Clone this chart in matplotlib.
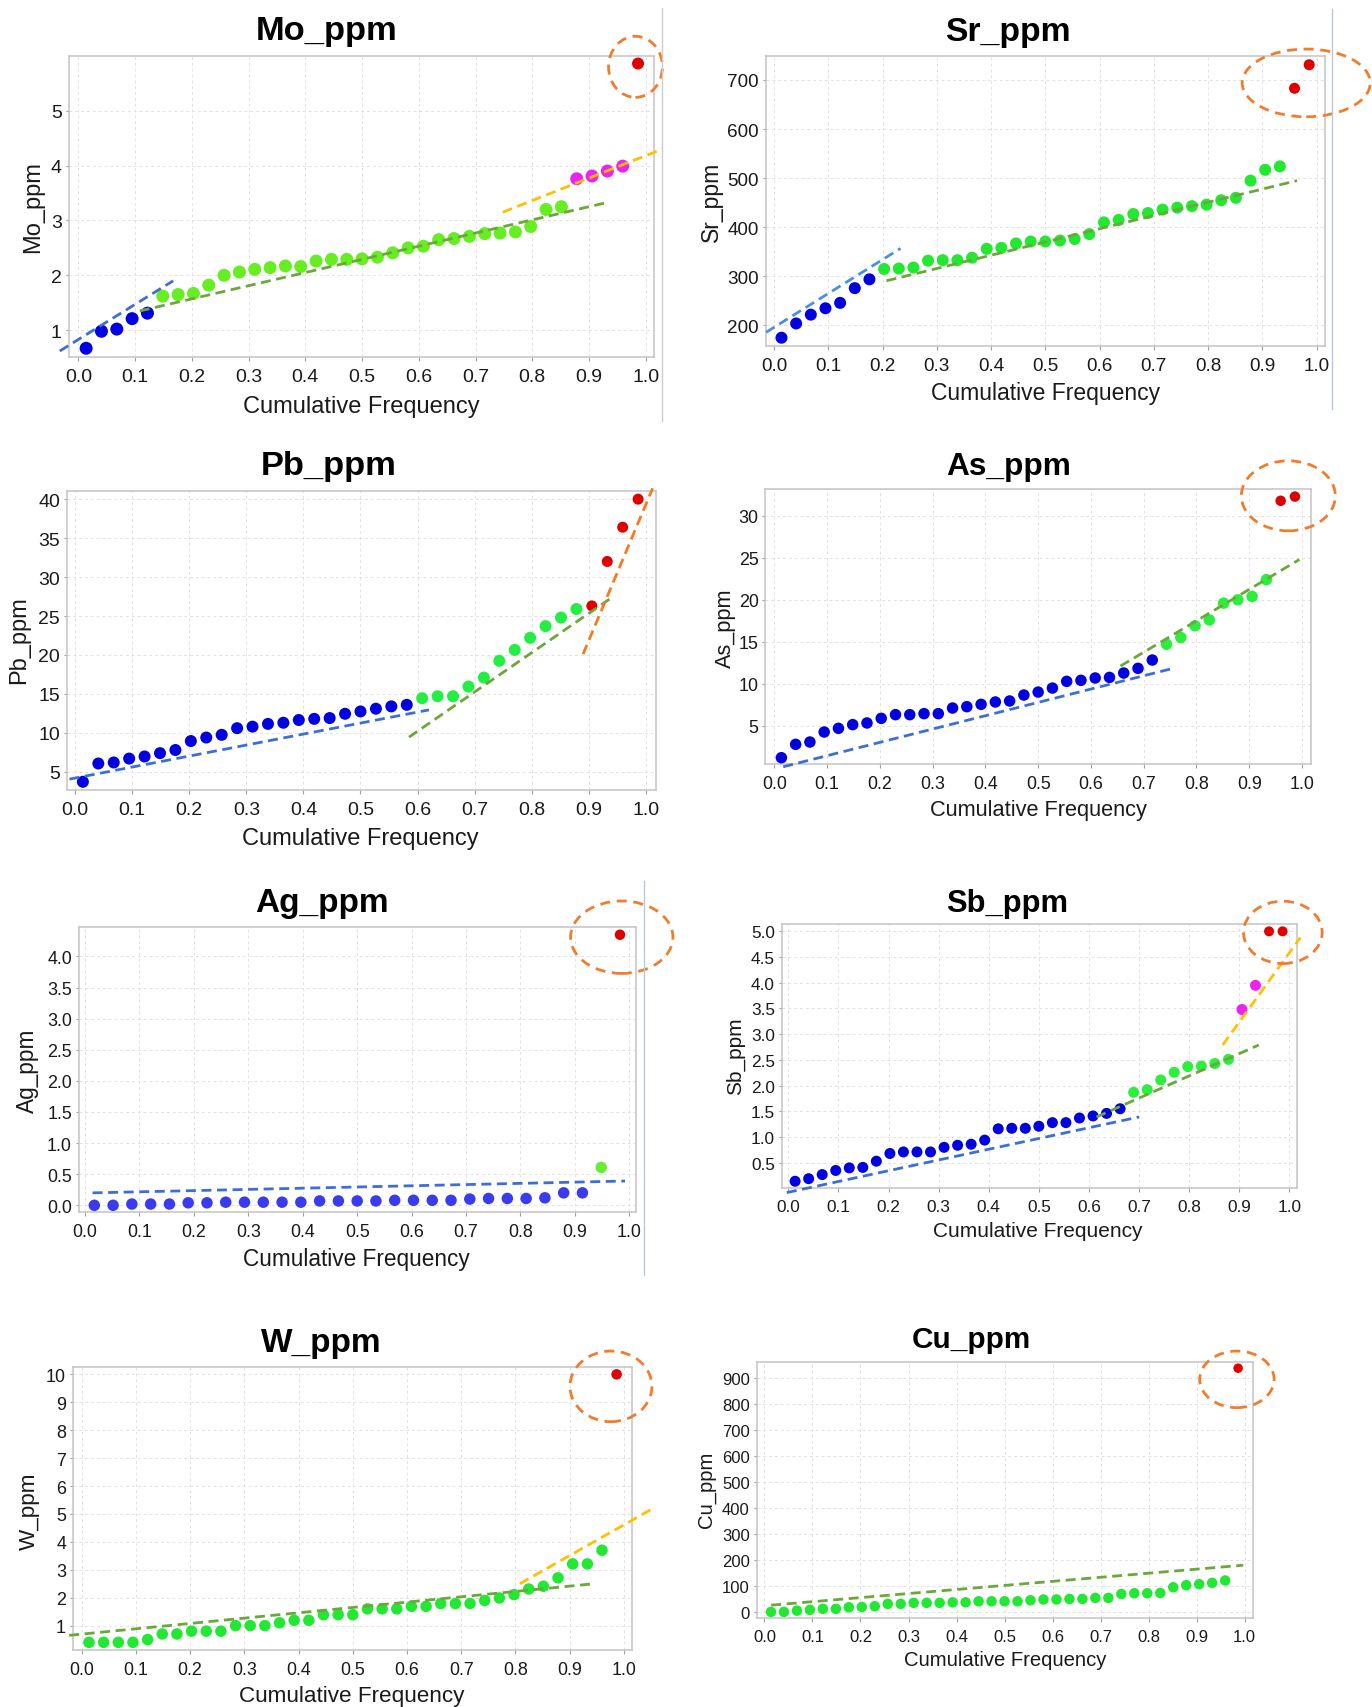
import matplotlib.pyplot as plt
from matplotlib.patches import Ellipse
from matplotlib.lines import Line2D
import numpy as np

plt.rcParams['font.family'] = ['Liberation Sans', 'DejaVu Sans']

# --- values, sorted ascending (cumulative frequency plots) ---
# class: 1 = background, 2 = threshold, 3 = anomaly, 4 = outlier
moValues = [0.67, 0.98, 1.02, 1.21, 1.31,
            1.62, 1.65, 1.67, 1.82, 2.00, 2.06, 2.11, 2.14, 2.17, 2.16,
            2.26, 2.29, 2.29, 2.30, 2.33, 2.41, 2.50, 2.53, 2.65, 2.67,
            2.71, 2.76, 2.77, 2.79, 2.89, 3.20, 3.25,
            3.76, 3.81, 3.90, 3.99,
            5.86]
moClass = [1] * 5 + [2] * 27 + [3] * 4 + [4]
moFitX = [[-0.033, 0.167], [0.108, 0.929], [0.748, 1.029]]
moFitY = [[0.62, 1.90], [1.35, 3.32], [3.15, 4.30]]
moFitClass = [1, 2, 3]
moOutlier = [0.982, 5.80, 0.095, 1.113]

srValues = [175, 204, 222, 235, 246, 276, 294,
            315, 316, 318, 332, 333, 333, 338, 356, 358, 367,
            371, 371, 373, 376, 386, 410, 415, 427, 429, 436,
            440, 443, 446, 455, 460, 495, 517, 524,
            683, 731]
srClass = [1] * 7 + [2] * 28 + [4] * 2
srFitX = [[-0.015, 0.233], [0.207, 0.964]]
srFitY = [[186, 357], [291, 495]]
srFitClass = [1, 2]
srOutlier = [0.981, 694, 0.236, 138]

pbValues = [3.72, 6.07, 6.2, 6.7, 6.97, 7.4, 7.8, 8.95, 9.4, 9.75,
            10.6, 10.8, 11.15, 11.3, 11.65, 11.8, 11.9, 12.45, 12.75, 13.1,
            13.4, 13.6,
            14.45, 14.7, 14.7, 15.95, 17.1, 19.25, 20.65, 22.2, 23.7, 24.8, 25.9,
            26.3, 32.0, 36.4, 40.0]
pbClass = [1] * 22 + [2] * 11 + [4] * 4
pbFitX = [[-0.01, 0.62], [0.585, 0.937], [0.89, 1.012]]
pbFitY = [[4.06, 12.95], [9.45, 27.2], [20.1, 41.4]]
pbFitClass = [1, 2, 4]
pbOutlier = None

asValues = [1.18, 2.77, 3.05, 4.24, 4.68, 5.12, 5.32, 5.87, 6.31, 6.31,
            6.43, 6.43, 7.1, 7.26, 7.54, 7.82, 7.94, 8.65, 9.0, 9.48,
            10.28, 10.4, 10.68, 10.75, 11.27, 11.83, 12.82,
            14.7, 15.5, 16.9, 17.6, 19.6, 20.0, 20.4, 22.4,
            31.8, 32.3]
asClass = [1] * 27 + [2] * 8 + [4] * 2
asFitX = [[0.017, 0.76], [0.656, 0.995]]
asFitY = [[0.10, 11.9], [12.1, 24.8]]
asFitClass = [1, 2]
asOutlier = [0.974, 32.39, 0.178, 8.35]

agValues = [0.0, 0.0, 0.02, 0.02, 0.02, 0.04, 0.04, 0.05, 0.05, 0.05,
            0.05, 0.05, 0.07, 0.07, 0.07, 0.07, 0.08, 0.08, 0.08, 0.08,
            0.10, 0.11, 0.11, 0.11, 0.12, 0.20, 0.20,
            0.61,
            4.35]
agClass = [1] * 27 + [2] + [4]
agFitX = [[0.014, 0.992]]
agFitY = [[0.20, 0.39]]
agFitClass = [1]
agOutlier = [0.986, 4.31, 0.188, 1.165]

sbValues = [0.14, 0.19, 0.27, 0.35, 0.40, 0.41, 0.53, 0.68, 0.71, 0.71,
            0.71, 0.80, 0.84, 0.86, 0.94, 1.16, 1.17, 1.17, 1.21, 1.28,
            1.28, 1.37, 1.41, 1.46, 1.55,
            1.87, 1.92, 2.11, 2.26, 2.37, 2.38, 2.43, 2.51,
            3.48, 3.95,
            5.0, 5.0]
sbClass = [1] * 25 + [2] * 8 + [3] * 2 + [4] * 2
sbFitX = [[-0.003, 0.70], [0.615, 0.939], [0.867, 1.022]]
sbFitY = [[-0.08, 1.39], [1.39, 2.79], [2.79, 4.88]]
sbFitClass = [1, 2, 3]
sbOutlier = [0.987, 4.98, 0.157, 1.213]

wValues = [0.40, 0.40, 0.40, 0.40, 0.50, 0.70, 0.70, 0.80, 0.80, 0.80,
           1.0, 1.0, 1.0, 1.10, 1.19, 1.19, 1.39, 1.39, 1.39, 1.60,
           1.60, 1.60, 1.69, 1.69, 1.79, 1.79, 1.79, 1.90, 1.99, 2.11,
           2.31, 2.41, 2.71, 3.21, 3.21, 3.70,
           10.0]
wClass = [2] * 36 + [4]
wFitX = [[-0.023, 0.945], [0.808, 1.05]]
wFitY = [[0.65, 2.5], [2.5, 5.16]]
wFitClass = [2, 3]
wOutlier = [0.976, 9.57, 0.151, 2.53]

cuValues = [0, 0, 5, 8, 12, 12, 18, 19, 22, 31,
            31, 35, 35, 35, 37, 37, 41, 41, 41, 41,
            45, 48, 48, 50, 50, 54, 54, 69, 72, 72,
            73, 95, 103, 107, 112, 121,
            939]
cuClass = [2] * 36 + [4]
cuFitX = [[0.014, 0.997]]
cuFitY = [[26, 180]]
cuFitClass = [2]
cuOutlier = [0.984, 896, 0.155, 218]

xTicks = [0.0, 0.1, 0.2, 0.3, 0.4, 0.5, 0.6, 0.7, 0.8, 0.9, 1.0]

# --- styles ---
W, H = 1260, 1568  # layout measured in the shrunk reference
lineColors = {1: '#3c6fd6', 2: '#6aa83a', 3: '#ffc000', 4: '#f47b20'}


def figXY(x, y):
    return x / W, 1 - y / H


fig = plt.figure(figsize=(13.72, 17.08), dpi=100)


def drawPanel(name, values, classes, fitX, fitY, fitClass, outlier, lay):
    l, t, r, b = lay['box']
    ax = fig.add_axes([l / W, 1 - b / H, (r - l) / W, (b - t) / H])
    n = len(values)
    cumFreq = (np.arange(n) + 0.5) / n
    classes = np.array(classes)
    values = np.array(values)
    dotColors = {1: lay.get('blue', '#0000e0'), 2: lay.get('green', '#2ee83a'),
                 3: '#ee22ee', 4: '#e00000'}
    d = lay['dot']
    for c in [1, 2, 3, 4]:
        m = classes == c
        if m.any():
            size = (d * 0.72) ** 2 if c != 4 else ((d - 1) * 0.72) ** 2
            ax.scatter(cumFreq[m], values[m], s=size, color=dotColors[c],
                       edgecolors='none', zorder=3)
    for fx, fy, fc in zip(fitX, fitY, fitClass):
        lc = lineColors[fc]
        if name == 'Sr_ppm' and fc == 1:
            lc = '#4a90e2'
        ax.plot(fx, fy, color=lc, lw=2.0, dashes=(3.6, 2.0), clip_on=False, zorder=4)
    if outlier is not None:
        ax.add_patch(Ellipse((outlier[0], outlier[1]), outlier[2], outlier[3],
                             fill=False, edgecolor='#f07d2e', lw=2.0,
                             linestyle=(0, (3.6, 2.4)), clip_on=False, zorder=5))

    ax.set_xlim(lay['xlim'])
    ax.set_ylim(lay['ylim'])
    ax.set_xticks(xTicks)
    ax.set_xticklabels(['%.1f' % v for v in xTicks])
    ax.set_yticks(lay['yticks'])
    ax.set_yticklabels([lay['yfmt'] % v for v in lay['yticks']])
    ax.grid(True, color='#e2e2e2', lw=0.7, linestyle=(0, (3, 3)))
    ax.set_axisbelow(True)
    for sp in ax.spines.values():
        sp.set_color('#c4c4c4')
        sp.set_linewidth(1.1)
    ax.tick_params(axis='x', length=3, width=0.8, color='#a0a0a0', pad=5,
                   labelsize=lay['tick'], labelcolor='#1a1a1a')
    ax.tick_params(axis='y', length=2, width=0.8, color='#a0a0a0', pad=3,
                   labelsize=lay['tick'], labelcolor='#1a1a1a')

    tx, ty, ts = lay['title']
    fig.text(*figXY(tx, ty), name, ha='center', va='center', fontsize=ts,
             fontweight='bold', color='black')
    ax.set_xlabel('Cumulative Frequency', fontsize=lay['label'], color='#1a1a1a')
    ax.xaxis.set_label_coords(*figXY(*lay['xlabel']), transform=fig.transFigure)
    ax.xaxis.label.set_va('center')
    ax.set_ylabel(name, fontsize=lay['label'], color='#1a1a1a')
    ax.yaxis.set_label_coords(*figXY(*lay['ylabel']), transform=fig.transFigure)
    ax.yaxis.label.set_va('center')
    return ax


drawPanel('Mo_ppm', moValues, moClass, moFitX, moFitY, moFitClass, moOutlier,
          {'box': (63.2, 52.7, 600.8, 328.2), 'xlim': (-0.017, 1.015), 'ylim': (0.52, 5.99),
           'yticks': [1, 2, 3, 4, 5], 'yfmt': '%d', 'title': (300, 29, 24.8),
           'xlabel': (332, 373.5), 'ylabel': (30, 190), 'label': 17, 'tick': 14,
           'dot': 13, 'green': '#66ee22'})

drawPanel('Sr_ppm', srValues, srClass, srFitX, srFitY, srFitClass, srOutlier,
          {'box': (703.5, 52.7, 1217, 318.4), 'xlim': (-0.015, 1.016), 'ylim': (158.5, 748),
           'yticks': [200, 300, 400, 500, 600, 700], 'yfmt': '%d', 'title': (926, 30, 24.3),
           'xlabel': (960, 361), 'ylabel': (653, 185), 'label': 16.5, 'tick': 13.6,
           'dot': 12, 'green': '#22e830'})

drawPanel('Pb_ppm', pbValues, pbClass, pbFitX, pbFitY, pbFitClass, pbOutlier,
          {'box': (61.7, 451.5, 602, 726), 'xlim': (-0.014, 1.017), 'ylim': (2.69, 41.07),
           'yticks': [5, 10, 15, 20, 25, 30, 35, 40], 'yfmt': '%d', 'title': (302, 428.6, 24.8),
           'xlabel': (330.5, 770.5), 'ylabel': (18, 588), 'label': 17, 'tick': 14,
           'dot': 12, 'green': '#22ee44'})

drawPanel('As_ppm', asValues, asClass, asFitX, asFitY, asFitClass, asOutlier,
          {'box': (703, 449.4, 1204, 702.6), 'xlim': (-0.0166, 1.017), 'ylim': (0.39, 33.26),
           'yticks': [5, 10, 15, 20, 25, 30], 'yfmt': '%d', 'title': (926.5, 428.6, 22.8),
           'xlabel': (953.6, 744), 'ylabel': (666, 577), 'label': 15.7, 'tick': 12.9,
           'dot': 11.5, 'green': '#2cee3c'})

drawPanel('Ag_ppm', agValues, agClass, agFitX, agFitY, agFitClass, agOutlier,
          {'box': (72.5, 851.6, 584, 1113.7), 'xlim': (-0.011, 1.012), 'ylim': (-0.11, 4.48),
           'yticks': [0.0, 0.5, 1.0, 1.5, 2.0, 2.5, 3.0, 3.5, 4.0], 'yfmt': '%.1f',
           'title': (296, 829.5, 24), 'xlabel': (327, 1156), 'ylabel': (25, 983),
           'label': 16.3, 'tick': 12.9, 'dot': 11.5, 'blue': '#3a3aee', 'green': '#66ee33'})

drawPanel('Sb_ppm', sbValues, sbClass, sbFitX, sbFitY, sbFitClass, sbOutlier,
          {'box': (718, 849.5, 1191, 1091.3), 'xlim': (-0.013, 1.015), 'ylim': (0.014, 5.136),
           'yticks': [0.5, 1.0, 1.5, 2.0, 2.5, 3.0, 3.5, 4.0, 4.5, 5.0], 'yfmt': '%.1f',
           'title': (924.5, 829.6, 22.2), 'xlabel': (953, 1131), 'ylabel': (675, 970),
           'label': 15, 'tick': 12.4, 'dot': 11, 'green': '#2cee3c'})

drawPanel('W_ppm', wValues, wClass, wFitX, wFitY, wFitClass, wOutlier,
          {'box': (67, 1255.7, 580.5, 1515.3), 'xlim': (-0.016, 1.015), 'ylim': (0.14, 10.27),
           'yticks': [1, 2, 3, 4, 5, 6, 7, 8, 9, 10], 'yfmt': '%d', 'title': (295.5, 1233.7, 24),
           'xlabel': (323, 1557), 'ylabel': (27, 1387), 'label': 16.2, 'tick': 12.9,
           'dot': 11.5, 'green': '#22e833'})

drawPanel('Cu_ppm', cuValues, cuClass, cuFitX, cuFitY, cuFitClass, cuOutlier,
          {'box': (695, 1251, 1150.5, 1486.2), 'xlim': (-0.016, 1.017), 'ylim': (-23, 964),
           'yticks': [0, 100, 200, 300, 400, 500, 600, 700, 800, 900], 'yfmt': '%d',
           'title': (892, 1230.6, 21.4), 'xlabel': (922.8, 1524.5), 'ylabel': (649, 1368),
           'label': 14.6, 'tick': 12, 'dot': 10.5, 'green': '#22e833'})

# thin separator lines left over from the original screenshots
for sx, sy0, sy1, sc in [(608, 8, 387, '#cccccc'), (1223, 9, 376, '#b8c8dc'),
                         (591, 810, 1171, '#b8c8dc')]:
    x0, y0 = figXY(sx, sy0)
    x1, y1 = figXY(sx, sy1)
    fig.add_artist(Line2D([x0, x1], [y0, y1], color=sc, lw=1.0))

fig.savefig('out.png', dpi=100)
